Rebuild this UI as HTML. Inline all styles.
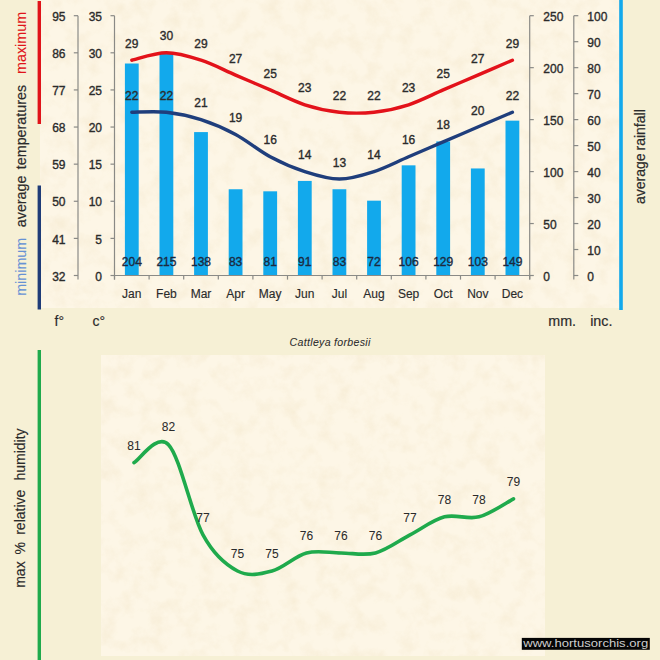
<!DOCTYPE html>
<html><head><meta charset="utf-8"><style>
html,body{margin:0;padding:0;background:#F6F0D5;}
svg{display:block;font-family:"Liberation Sans", sans-serif;}
</style></head><body>
<svg width="660" height="660" viewBox="0 0 660 660">
<rect x="0" y="0" width="660" height="660" fill="#F6F0D5"/>
<defs><filter id="tex" x="0" y="0" width="660" height="660" filterUnits="userSpaceOnUse"><feTurbulence type="fractalNoise" baseFrequency="0.06" numOctaves="4" seed="7"/><feColorMatrix type="matrix" values="0 0 0 0 0.80  0 0 0 0 0.66  0 0 0 0 0.40  2.0 0 0 0 -0.85"/><feComposite in2="SourceGraphic" operator="in"/></filter></defs>
<rect x="40" y="0" width="579" height="308" fill="#FDF6E6"/>
<rect x="101" y="355" width="444" height="301" fill="#FDF6E6"/>
<g filter="url(#tex)" opacity="0.24"><rect x="40" y="0" width="579" height="308" fill="#000"/><rect x="101" y="355" width="444" height="301" fill="#000"/></g>
<rect x="37.6" y="1" width="3.4" height="123" fill="#E0141A"/>
<rect x="37.6" y="185.5" width="3.4" height="124" fill="#1F3C78"/>
<rect x="619.2" y="0" width="3.6" height="310" fill="#12A9EC"/>
<rect x="37.6" y="350" width="3.4" height="310" fill="#1FAA4C"/>
<text transform="translate(25.60,295.80) rotate(-90)" font-size="14.30" fill="#6692D4" stroke="#6692D4" stroke-width="0.12" text-anchor="start">minimum</text>
<text transform="translate(25.60,227.20) rotate(-90)" font-size="14.30" fill="#2b2b2b" stroke="#2b2b2b" stroke-width="0.2" text-anchor="start">average</text>
<text transform="translate(25.60,169.20) rotate(-90)" font-size="14.30" fill="#2b2b2b" stroke="#2b2b2b" stroke-width="0.2" text-anchor="start">temperatures</text>
<text transform="translate(25.60,73.90) rotate(-90)" font-size="14.30" fill="#E0141A" stroke="#E0141A" stroke-width="0.12" text-anchor="start">maximum</text>
<text transform="translate(644.60,204.00) rotate(-90)" font-size="14.00" fill="#2b2b2b" stroke="#2b2b2b" stroke-width="0.2" text-anchor="start">average</text>
<text transform="translate(644.60,150.50) rotate(-90)" font-size="14.00" fill="#2b2b2b" stroke="#2b2b2b" stroke-width="0.2" text-anchor="start">rainfall</text>
<text transform="translate(25.40,587.80) rotate(-90)" font-size="14.00" fill="#2b2b2b" stroke="#2b2b2b" stroke-width="0.15" text-anchor="start">max</text>
<text transform="translate(25.40,554.50) rotate(-90)" font-size="14.00" fill="#2b2b2b" stroke="#2b2b2b" stroke-width="0.15" text-anchor="start">%</text>
<text transform="translate(25.40,534.80) rotate(-90)" font-size="14.00" fill="#2b2b2b" stroke="#2b2b2b" stroke-width="0.15" text-anchor="start">relative</text>
<text transform="translate(25.40,480.60) rotate(-90)" font-size="14.00" fill="#2b2b2b" stroke="#2b2b2b" stroke-width="0.15" text-anchor="start">humidity</text>
<line x1="78" y1="15.70" x2="78" y2="279.5" stroke="#8a8a86" stroke-width="1.2"/>
<line x1="73.8" y1="15.70" x2="78" y2="15.70" stroke="#8a8a86" stroke-width="1.2"/>
<text x="65.5" y="20.90" font-size="12" fill="#2b2b2b" text-anchor="end" stroke="#2b2b2b" stroke-width="0.35">95</text>
<line x1="73.8" y1="52.81" x2="78" y2="52.81" stroke="#8a8a86" stroke-width="1.2"/>
<text x="65.5" y="58.01" font-size="12" fill="#2b2b2b" text-anchor="end" stroke="#2b2b2b" stroke-width="0.35">86</text>
<line x1="73.8" y1="89.93" x2="78" y2="89.93" stroke="#8a8a86" stroke-width="1.2"/>
<text x="65.5" y="95.13" font-size="12" fill="#2b2b2b" text-anchor="end" stroke="#2b2b2b" stroke-width="0.35">77</text>
<line x1="73.8" y1="127.04" x2="78" y2="127.04" stroke="#8a8a86" stroke-width="1.2"/>
<text x="65.5" y="132.24" font-size="12" fill="#2b2b2b" text-anchor="end" stroke="#2b2b2b" stroke-width="0.35">68</text>
<line x1="73.8" y1="164.16" x2="78" y2="164.16" stroke="#8a8a86" stroke-width="1.2"/>
<text x="65.5" y="169.36" font-size="12" fill="#2b2b2b" text-anchor="end" stroke="#2b2b2b" stroke-width="0.35">59</text>
<line x1="73.8" y1="201.27" x2="78" y2="201.27" stroke="#8a8a86" stroke-width="1.2"/>
<text x="65.5" y="206.47" font-size="12" fill="#2b2b2b" text-anchor="end" stroke="#2b2b2b" stroke-width="0.35">50</text>
<line x1="73.8" y1="238.39" x2="78" y2="238.39" stroke="#8a8a86" stroke-width="1.2"/>
<text x="65.5" y="243.59" font-size="12" fill="#2b2b2b" text-anchor="end" stroke="#2b2b2b" stroke-width="0.35">41</text>
<line x1="73.8" y1="275.50" x2="78" y2="275.50" stroke="#8a8a86" stroke-width="1.2"/>
<text x="65.5" y="280.70" font-size="12" fill="#2b2b2b" text-anchor="end" stroke="#2b2b2b" stroke-width="0.35">32</text>
<line x1="114.5" y1="15.70" x2="114.5" y2="279.5" stroke="#8a8a86" stroke-width="1.2"/>
<line x1="110.5" y1="15.70" x2="114.5" y2="15.70" stroke="#8a8a86" stroke-width="1.2"/>
<text x="102" y="20.90" font-size="12" fill="#2b2b2b" text-anchor="end" stroke="#2b2b2b" stroke-width="0.35">35</text>
<line x1="110.5" y1="52.81" x2="114.5" y2="52.81" stroke="#8a8a86" stroke-width="1.2"/>
<text x="102" y="58.01" font-size="12" fill="#2b2b2b" text-anchor="end" stroke="#2b2b2b" stroke-width="0.35">30</text>
<line x1="110.5" y1="89.93" x2="114.5" y2="89.93" stroke="#8a8a86" stroke-width="1.2"/>
<text x="102" y="95.13" font-size="12" fill="#2b2b2b" text-anchor="end" stroke="#2b2b2b" stroke-width="0.35">25</text>
<line x1="110.5" y1="127.04" x2="114.5" y2="127.04" stroke="#8a8a86" stroke-width="1.2"/>
<text x="102" y="132.24" font-size="12" fill="#2b2b2b" text-anchor="end" stroke="#2b2b2b" stroke-width="0.35">20</text>
<line x1="110.5" y1="164.16" x2="114.5" y2="164.16" stroke="#8a8a86" stroke-width="1.2"/>
<text x="102" y="169.36" font-size="12" fill="#2b2b2b" text-anchor="end" stroke="#2b2b2b" stroke-width="0.35">15</text>
<line x1="110.5" y1="201.27" x2="114.5" y2="201.27" stroke="#8a8a86" stroke-width="1.2"/>
<text x="102" y="206.47" font-size="12" fill="#2b2b2b" text-anchor="end" stroke="#2b2b2b" stroke-width="0.35">10</text>
<line x1="110.5" y1="238.39" x2="114.5" y2="238.39" stroke="#8a8a86" stroke-width="1.2"/>
<text x="102" y="243.59" font-size="12" fill="#2b2b2b" text-anchor="end" stroke="#2b2b2b" stroke-width="0.35">5</text>
<line x1="110.5" y1="275.50" x2="114.5" y2="275.50" stroke="#8a8a86" stroke-width="1.2"/>
<text x="102" y="280.70" font-size="12" fill="#2b2b2b" text-anchor="end" stroke="#2b2b2b" stroke-width="0.35">0</text>
<line x1="529.7" y1="15.70" x2="529.7" y2="279.5" stroke="#8a8a86" stroke-width="1.2"/>
<line x1="529.7" y1="15.70" x2="533.8" y2="15.70" stroke="#8a8a86" stroke-width="1.2"/>
<text x="543.3" y="20.90" font-size="12" fill="#2b2b2b" stroke="#2b2b2b" stroke-width="0.35">250</text>
<line x1="529.7" y1="67.66" x2="533.8" y2="67.66" stroke="#8a8a86" stroke-width="1.2"/>
<text x="543.3" y="72.86" font-size="12" fill="#2b2b2b" stroke="#2b2b2b" stroke-width="0.35">200</text>
<line x1="529.7" y1="119.62" x2="533.8" y2="119.62" stroke="#8a8a86" stroke-width="1.2"/>
<text x="543.3" y="124.82" font-size="12" fill="#2b2b2b" stroke="#2b2b2b" stroke-width="0.35">150</text>
<line x1="529.7" y1="171.58" x2="533.8" y2="171.58" stroke="#8a8a86" stroke-width="1.2"/>
<text x="543.3" y="176.78" font-size="12" fill="#2b2b2b" stroke="#2b2b2b" stroke-width="0.35">100</text>
<line x1="529.7" y1="223.54" x2="533.8" y2="223.54" stroke="#8a8a86" stroke-width="1.2"/>
<text x="543.3" y="228.74" font-size="12" fill="#2b2b2b" stroke="#2b2b2b" stroke-width="0.35">50</text>
<line x1="529.7" y1="275.50" x2="533.8" y2="275.50" stroke="#8a8a86" stroke-width="1.2"/>
<text x="543.3" y="280.70" font-size="12" fill="#2b2b2b" stroke="#2b2b2b" stroke-width="0.35">0</text>
<line x1="573.8" y1="15.70" x2="573.8" y2="279.5" stroke="#8a8a86" stroke-width="1.2"/>
<line x1="573.8" y1="15.70" x2="578.3" y2="15.70" stroke="#8a8a86" stroke-width="1.2"/>
<text x="587.3" y="20.90" font-size="12" fill="#2b2b2b" stroke="#2b2b2b" stroke-width="0.35">100</text>
<line x1="573.8" y1="41.68" x2="578.3" y2="41.68" stroke="#8a8a86" stroke-width="1.2"/>
<text x="587.3" y="46.88" font-size="12" fill="#2b2b2b" stroke="#2b2b2b" stroke-width="0.35">90</text>
<line x1="573.8" y1="67.66" x2="578.3" y2="67.66" stroke="#8a8a86" stroke-width="1.2"/>
<text x="587.3" y="72.86" font-size="12" fill="#2b2b2b" stroke="#2b2b2b" stroke-width="0.35">80</text>
<line x1="573.8" y1="93.64" x2="578.3" y2="93.64" stroke="#8a8a86" stroke-width="1.2"/>
<text x="587.3" y="98.84" font-size="12" fill="#2b2b2b" stroke="#2b2b2b" stroke-width="0.35">70</text>
<line x1="573.8" y1="119.62" x2="578.3" y2="119.62" stroke="#8a8a86" stroke-width="1.2"/>
<text x="587.3" y="124.82" font-size="12" fill="#2b2b2b" stroke="#2b2b2b" stroke-width="0.35">60</text>
<line x1="573.8" y1="145.60" x2="578.3" y2="145.60" stroke="#8a8a86" stroke-width="1.2"/>
<text x="587.3" y="150.80" font-size="12" fill="#2b2b2b" stroke="#2b2b2b" stroke-width="0.35">50</text>
<line x1="573.8" y1="171.58" x2="578.3" y2="171.58" stroke="#8a8a86" stroke-width="1.2"/>
<text x="587.3" y="176.78" font-size="12" fill="#2b2b2b" stroke="#2b2b2b" stroke-width="0.35">40</text>
<line x1="573.8" y1="197.56" x2="578.3" y2="197.56" stroke="#8a8a86" stroke-width="1.2"/>
<text x="587.3" y="202.76" font-size="12" fill="#2b2b2b" stroke="#2b2b2b" stroke-width="0.35">30</text>
<line x1="573.8" y1="223.54" x2="578.3" y2="223.54" stroke="#8a8a86" stroke-width="1.2"/>
<text x="587.3" y="228.74" font-size="12" fill="#2b2b2b" stroke="#2b2b2b" stroke-width="0.35">20</text>
<line x1="573.8" y1="249.52" x2="578.3" y2="249.52" stroke="#8a8a86" stroke-width="1.2"/>
<text x="587.3" y="254.72" font-size="12" fill="#2b2b2b" stroke="#2b2b2b" stroke-width="0.35">10</text>
<line x1="573.8" y1="275.50" x2="578.3" y2="275.50" stroke="#8a8a86" stroke-width="1.2"/>
<text x="587.3" y="280.70" font-size="12" fill="#2b2b2b" stroke="#2b2b2b" stroke-width="0.35">0</text>
<rect x="124.90" y="63.50" width="13.8" height="212.00" fill="#12A9EC"/>
<rect x="159.50" y="52.07" width="13.8" height="223.43" fill="#12A9EC"/>
<rect x="194.10" y="132.09" width="13.8" height="143.41" fill="#12A9EC"/>
<rect x="228.70" y="189.25" width="13.8" height="86.25" fill="#12A9EC"/>
<rect x="263.30" y="191.32" width="13.8" height="84.18" fill="#12A9EC"/>
<rect x="297.90" y="180.93" width="13.8" height="94.57" fill="#12A9EC"/>
<rect x="332.50" y="189.25" width="13.8" height="86.25" fill="#12A9EC"/>
<rect x="367.10" y="200.68" width="13.8" height="74.82" fill="#12A9EC"/>
<rect x="401.70" y="165.34" width="13.8" height="110.16" fill="#12A9EC"/>
<rect x="436.30" y="141.44" width="13.8" height="134.06" fill="#12A9EC"/>
<rect x="470.90" y="168.46" width="13.8" height="107.04" fill="#12A9EC"/>
<rect x="505.50" y="120.66" width="13.8" height="154.84" fill="#12A9EC"/>
<line x1="114.5" y1="275.50" x2="529.7" y2="275.50" stroke="#8a8a86" stroke-width="1.2"/>
<line x1="114.50" y1="275.50" x2="114.50" y2="279.6" stroke="#8a8a86" stroke-width="1.2"/>
<line x1="149.10" y1="275.50" x2="149.10" y2="279.6" stroke="#8a8a86" stroke-width="1.2"/>
<line x1="183.70" y1="275.50" x2="183.70" y2="279.6" stroke="#8a8a86" stroke-width="1.2"/>
<line x1="218.30" y1="275.50" x2="218.30" y2="279.6" stroke="#8a8a86" stroke-width="1.2"/>
<line x1="252.90" y1="275.50" x2="252.90" y2="279.6" stroke="#8a8a86" stroke-width="1.2"/>
<line x1="287.50" y1="275.50" x2="287.50" y2="279.6" stroke="#8a8a86" stroke-width="1.2"/>
<line x1="322.10" y1="275.50" x2="322.10" y2="279.6" stroke="#8a8a86" stroke-width="1.2"/>
<line x1="356.70" y1="275.50" x2="356.70" y2="279.6" stroke="#8a8a86" stroke-width="1.2"/>
<line x1="391.30" y1="275.50" x2="391.30" y2="279.6" stroke="#8a8a86" stroke-width="1.2"/>
<line x1="425.90" y1="275.50" x2="425.90" y2="279.6" stroke="#8a8a86" stroke-width="1.2"/>
<line x1="460.50" y1="275.50" x2="460.50" y2="279.6" stroke="#8a8a86" stroke-width="1.2"/>
<line x1="495.10" y1="275.50" x2="495.10" y2="279.6" stroke="#8a8a86" stroke-width="1.2"/>
<line x1="529.70" y1="275.50" x2="529.70" y2="279.6" stroke="#8a8a86" stroke-width="1.2"/>
<text x="131.80" y="297.8" font-size="12" fill="#2b2b2b" stroke="#2b2b2b" stroke-width="0.15" text-anchor="middle">Jan</text>
<text x="166.40" y="297.8" font-size="12" fill="#2b2b2b" stroke="#2b2b2b" stroke-width="0.15" text-anchor="middle">Feb</text>
<text x="201.00" y="297.8" font-size="12" fill="#2b2b2b" stroke="#2b2b2b" stroke-width="0.15" text-anchor="middle">Mar</text>
<text x="235.60" y="297.8" font-size="12" fill="#2b2b2b" stroke="#2b2b2b" stroke-width="0.15" text-anchor="middle">Apr</text>
<text x="270.20" y="297.8" font-size="12" fill="#2b2b2b" stroke="#2b2b2b" stroke-width="0.15" text-anchor="middle">May</text>
<text x="304.80" y="297.8" font-size="12" fill="#2b2b2b" stroke="#2b2b2b" stroke-width="0.15" text-anchor="middle">Jun</text>
<text x="339.40" y="297.8" font-size="12" fill="#2b2b2b" stroke="#2b2b2b" stroke-width="0.15" text-anchor="middle">Jul</text>
<text x="374.00" y="297.8" font-size="12" fill="#2b2b2b" stroke="#2b2b2b" stroke-width="0.15" text-anchor="middle">Aug</text>
<text x="408.60" y="297.8" font-size="12" fill="#2b2b2b" stroke="#2b2b2b" stroke-width="0.15" text-anchor="middle">Sep</text>
<text x="443.20" y="297.8" font-size="12" fill="#2b2b2b" stroke="#2b2b2b" stroke-width="0.15" text-anchor="middle">Oct</text>
<text x="477.80" y="297.8" font-size="12" fill="#2b2b2b" stroke="#2b2b2b" stroke-width="0.15" text-anchor="middle">Nov</text>
<text x="512.40" y="297.8" font-size="12" fill="#2b2b2b" stroke="#2b2b2b" stroke-width="0.15" text-anchor="middle">Dec</text>
<text x="131.80" y="265.8" font-size="12" fill="#1C2940" text-anchor="middle" stroke="#1C2940" stroke-width="0.35">204</text>
<text x="166.40" y="265.8" font-size="12" fill="#1C2940" text-anchor="middle" stroke="#1C2940" stroke-width="0.35">215</text>
<text x="201.00" y="265.8" font-size="12" fill="#1C2940" text-anchor="middle" stroke="#1C2940" stroke-width="0.35">138</text>
<text x="235.60" y="265.8" font-size="12" fill="#1C2940" text-anchor="middle" stroke="#1C2940" stroke-width="0.35">83</text>
<text x="270.20" y="265.8" font-size="12" fill="#1C2940" text-anchor="middle" stroke="#1C2940" stroke-width="0.35">81</text>
<text x="304.80" y="265.8" font-size="12" fill="#1C2940" text-anchor="middle" stroke="#1C2940" stroke-width="0.35">91</text>
<text x="339.40" y="265.8" font-size="12" fill="#1C2940" text-anchor="middle" stroke="#1C2940" stroke-width="0.35">83</text>
<text x="374.00" y="265.8" font-size="12" fill="#1C2940" text-anchor="middle" stroke="#1C2940" stroke-width="0.35">72</text>
<text x="408.60" y="265.8" font-size="12" fill="#1C2940" text-anchor="middle" stroke="#1C2940" stroke-width="0.35">106</text>
<text x="443.20" y="265.8" font-size="12" fill="#1C2940" text-anchor="middle" stroke="#1C2940" stroke-width="0.35">129</text>
<text x="477.80" y="265.8" font-size="12" fill="#1C2940" text-anchor="middle" stroke="#1C2940" stroke-width="0.35">103</text>
<text x="512.40" y="265.8" font-size="12" fill="#1C2940" text-anchor="middle" stroke="#1C2940" stroke-width="0.35">149</text>
<path d="M131.80,60.24 C137.57,59.00 154.87,52.81 166.40,52.81 C177.93,52.81 189.47,56.53 201.00,60.24 C212.53,63.95 224.07,70.13 235.60,75.08 C247.13,80.03 258.67,84.98 270.20,89.93 C281.73,94.88 293.27,101.06 304.80,104.77 C316.33,108.49 327.87,110.96 339.40,112.20 C350.93,113.43 362.47,113.43 374.00,112.20 C385.53,110.96 397.07,108.49 408.60,104.77 C420.13,101.06 431.67,94.88 443.20,89.93 C454.73,84.98 466.27,80.03 477.80,75.08 C489.33,70.13 506.63,62.71 512.40,60.24" fill="none" stroke="#E3121A" stroke-width="3.4" stroke-linecap="round"/>
<path d="M131.80,112.20 C137.57,112.20 154.87,110.96 166.40,112.20 C177.93,113.43 189.47,115.91 201.00,119.62 C212.53,123.33 224.07,128.28 235.60,134.47 C247.13,140.65 258.67,150.55 270.20,156.73 C281.73,162.92 293.27,167.87 304.80,171.58 C316.33,175.29 327.87,179.00 339.40,179.00 C350.93,179.00 362.47,175.29 374.00,171.58 C385.53,167.87 397.07,161.68 408.60,156.73 C420.13,151.79 431.67,146.84 443.20,141.89 C454.73,136.94 466.27,131.99 477.80,127.04 C489.33,122.09 506.63,114.67 512.40,112.20" fill="none" stroke="#1F3E7C" stroke-width="3.4" stroke-linecap="round"/>
<text x="131.80" y="47.84" font-size="12" fill="#2b2b2b" text-anchor="middle" stroke="#2b2b2b" stroke-width="0.35">29</text>
<text x="166.40" y="40.41" font-size="12" fill="#2b2b2b" text-anchor="middle" stroke="#2b2b2b" stroke-width="0.35">30</text>
<text x="201.00" y="47.84" font-size="12" fill="#2b2b2b" text-anchor="middle" stroke="#2b2b2b" stroke-width="0.35">29</text>
<text x="235.60" y="62.68" font-size="12" fill="#2b2b2b" text-anchor="middle" stroke="#2b2b2b" stroke-width="0.35">27</text>
<text x="270.20" y="77.53" font-size="12" fill="#2b2b2b" text-anchor="middle" stroke="#2b2b2b" stroke-width="0.35">25</text>
<text x="304.80" y="92.37" font-size="12" fill="#2b2b2b" text-anchor="middle" stroke="#2b2b2b" stroke-width="0.35">23</text>
<text x="339.40" y="99.80" font-size="12" fill="#2b2b2b" text-anchor="middle" stroke="#2b2b2b" stroke-width="0.35">22</text>
<text x="374.00" y="99.80" font-size="12" fill="#2b2b2b" text-anchor="middle" stroke="#2b2b2b" stroke-width="0.35">22</text>
<text x="408.60" y="92.37" font-size="12" fill="#2b2b2b" text-anchor="middle" stroke="#2b2b2b" stroke-width="0.35">23</text>
<text x="443.20" y="77.53" font-size="12" fill="#2b2b2b" text-anchor="middle" stroke="#2b2b2b" stroke-width="0.35">25</text>
<text x="477.80" y="62.68" font-size="12" fill="#2b2b2b" text-anchor="middle" stroke="#2b2b2b" stroke-width="0.35">27</text>
<text x="512.40" y="47.84" font-size="12" fill="#2b2b2b" text-anchor="middle" stroke="#2b2b2b" stroke-width="0.35">29</text>
<text x="131.80" y="99.80" font-size="12" fill="#2b2b2b" text-anchor="middle" stroke="#2b2b2b" stroke-width="0.35">22</text>
<text x="166.40" y="99.80" font-size="12" fill="#2b2b2b" text-anchor="middle" stroke="#2b2b2b" stroke-width="0.35">22</text>
<text x="201.00" y="107.22" font-size="12" fill="#2b2b2b" text-anchor="middle" stroke="#2b2b2b" stroke-width="0.35">21</text>
<text x="235.60" y="122.07" font-size="12" fill="#2b2b2b" text-anchor="middle" stroke="#2b2b2b" stroke-width="0.35">19</text>
<text x="270.20" y="144.33" font-size="12" fill="#2b2b2b" text-anchor="middle" stroke="#2b2b2b" stroke-width="0.35">16</text>
<text x="304.80" y="159.18" font-size="12" fill="#2b2b2b" text-anchor="middle" stroke="#2b2b2b" stroke-width="0.35">14</text>
<text x="339.40" y="166.60" font-size="12" fill="#2b2b2b" text-anchor="middle" stroke="#2b2b2b" stroke-width="0.35">13</text>
<text x="374.00" y="159.18" font-size="12" fill="#2b2b2b" text-anchor="middle" stroke="#2b2b2b" stroke-width="0.35">14</text>
<text x="408.60" y="144.33" font-size="12" fill="#2b2b2b" text-anchor="middle" stroke="#2b2b2b" stroke-width="0.35">16</text>
<text x="443.20" y="129.49" font-size="12" fill="#2b2b2b" text-anchor="middle" stroke="#2b2b2b" stroke-width="0.35">18</text>
<text x="477.80" y="114.64" font-size="12" fill="#2b2b2b" text-anchor="middle" stroke="#2b2b2b" stroke-width="0.35">20</text>
<text x="512.40" y="99.80" font-size="12" fill="#2b2b2b" text-anchor="middle" stroke="#2b2b2b" stroke-width="0.35">22</text>
<text x="54.5" y="325.6" font-size="14" fill="#2b2b2b" stroke="#2b2b2b" stroke-width="0.15">f°</text>
<text x="92.5" y="325.6" font-size="14" fill="#2b2b2b" stroke="#2b2b2b" stroke-width="0.15">c°</text>
<text x="548.3" y="325.6" font-size="14.3" fill="#2b2b2b" stroke="#2b2b2b" stroke-width="0.18">mm.</text>
<text x="590.2" y="325.6" font-size="14.3" fill="#2b2b2b" stroke="#2b2b2b" stroke-width="0.18">inc.</text>
<text x="289.6" y="345.5" font-size="10.6" font-style="italic" fill="#2b2b2b" stroke="#2b2b2b" stroke-width="0.05" letter-spacing="0.3">Cattleya forbesii</text>
<path d="M134.00,462.70 C139.75,459.69 157.00,432.62 168.50,444.65 C180.00,456.68 191.50,513.84 203.00,534.90 C214.50,555.96 226.00,564.98 237.50,571.00 C249.00,577.02 260.50,574.01 272.00,571.00 C283.50,567.99 295.00,555.96 306.50,552.95 C318.00,549.94 329.50,552.95 341.00,552.95 C352.50,552.95 364.00,555.96 375.50,552.95 C387.00,549.94 398.50,540.92 410.00,534.90 C421.50,528.88 433.00,519.86 444.50,516.85 C456.00,513.84 467.50,519.86 479.00,516.85 C490.50,513.84 507.75,501.81 513.50,498.80" fill="none" stroke="#1FAA4C" stroke-width="3.6" stroke-linecap="round"/>
<text x="134.00" y="449.50" font-size="12" fill="#2b2b2b" stroke="#2b2b2b" stroke-width="0.05" text-anchor="middle">81</text>
<text x="168.50" y="431.45" font-size="12" fill="#2b2b2b" stroke="#2b2b2b" stroke-width="0.05" text-anchor="middle">82</text>
<text x="203.00" y="521.70" font-size="12" fill="#2b2b2b" stroke="#2b2b2b" stroke-width="0.05" text-anchor="middle">77</text>
<text x="237.50" y="557.80" font-size="12" fill="#2b2b2b" stroke="#2b2b2b" stroke-width="0.05" text-anchor="middle">75</text>
<text x="272.00" y="557.80" font-size="12" fill="#2b2b2b" stroke="#2b2b2b" stroke-width="0.05" text-anchor="middle">75</text>
<text x="306.50" y="539.75" font-size="12" fill="#2b2b2b" stroke="#2b2b2b" stroke-width="0.05" text-anchor="middle">76</text>
<text x="341.00" y="539.75" font-size="12" fill="#2b2b2b" stroke="#2b2b2b" stroke-width="0.05" text-anchor="middle">76</text>
<text x="375.50" y="539.75" font-size="12" fill="#2b2b2b" stroke="#2b2b2b" stroke-width="0.05" text-anchor="middle">76</text>
<text x="410.00" y="521.70" font-size="12" fill="#2b2b2b" stroke="#2b2b2b" stroke-width="0.05" text-anchor="middle">77</text>
<text x="444.50" y="503.65" font-size="12" fill="#2b2b2b" stroke="#2b2b2b" stroke-width="0.05" text-anchor="middle">78</text>
<text x="479.00" y="503.65" font-size="12" fill="#2b2b2b" stroke="#2b2b2b" stroke-width="0.05" text-anchor="middle">78</text>
<text x="513.50" y="485.60" font-size="12" fill="#2b2b2b" stroke="#2b2b2b" stroke-width="0.05" text-anchor="middle">79</text>
<rect x="521.8" y="637.9" width="128" height="11.9" fill="#050505"/>
<text x="523.2" y="646.7" font-size="11.6" fill="#cdcdcd" stroke="none" textLength="125" lengthAdjust="spacingAndGlyphs">www.hortusorchis.org</text>
</svg>
</body></html>
